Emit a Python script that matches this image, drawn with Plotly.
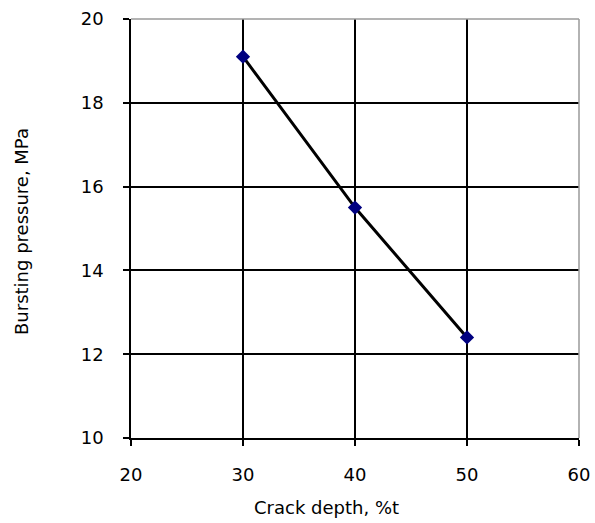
import plotly.graph_objects as go

crack_depth = [30, 40, 50]
bursting_pressure = [19.1, 15.5, 12.4]
x_ticks = [20, 30, 40, 50, 60]
y_ticks = [10, 12, 14, 16, 18, 20]

font = dict(family="DejaVu Sans, Liberation Sans, Arial, sans-serif", size=18, color="#000000")

# plot area geometry in pixels
L, R, T, B = 131, 16, 19, 85
W, H = 595, 523
pw, ph = W - L - R, H - T - B

fig = go.Figure()
fig.add_trace(go.Scatter(
    x=crack_depth, y=bursting_pressure, mode="lines+markers",
    line=dict(color="#000000", width=3),
    marker=dict(symbol="diamond", size=11, color="#000080"),
    showlegend=False, cliponaxis=False,
))

axis_common = dict(
    showgrid=True, gridcolor="#000000", gridwidth=1.5,
    showline=True, linecolor="#000000", linewidth=1.5,
    ticks="outside", ticklen=6, tickcolor="#000000", tickwidth=1.5,
    zeroline=False, tickfont=font, mirror=False, automargin=False,
)

fig.update_xaxes(range=[20, 60], tickvals=x_ticks, ticktext=[str(v) for v in x_ticks],
                 ticklabelstandoff=14, **axis_common)
fig.update_yaxes(range=[10, 20], tickvals=y_ticks, ticktext=[str(v) for v in y_ticks],
                 ticklabelstandoff=16, **axis_common)

# light grey frame on top and right edges of the plot area
fig.add_shape(type="line", xref="paper", yref="paper", x0=0, x1=1, y0=1, y1=1,
              line=dict(color="#9a9a9a", width=1.5), layer="above")
fig.add_shape(type="line", xref="paper", yref="paper", x0=1, x1=1, y0=0, y1=1,
              line=dict(color="#9a9a9a", width=1.5), layer="above")

# axis titles
fig.add_annotation(text="Crack depth, %t", xref="paper", yref="paper",
                   x=(326 - L) / pw, y=(H - B - 507) / ph,
                   xanchor="center", yanchor="middle", showarrow=False, font=font)
fig.add_annotation(text="Bursting pressure, MPa", xref="paper", yref="paper",
                   x=(21 - L) / pw, y=(H - B - 232) / ph, textangle=-90,
                   xanchor="center", yanchor="middle", showarrow=False, font=font)

fig.update_layout(
    width=W, height=H,
    margin=dict(l=L, r=R, t=T, b=B, autoexpand=False),
    paper_bgcolor="#ffffff", plot_bgcolor="#ffffff",
    font=font,
)

fig.write_html("out.html")
